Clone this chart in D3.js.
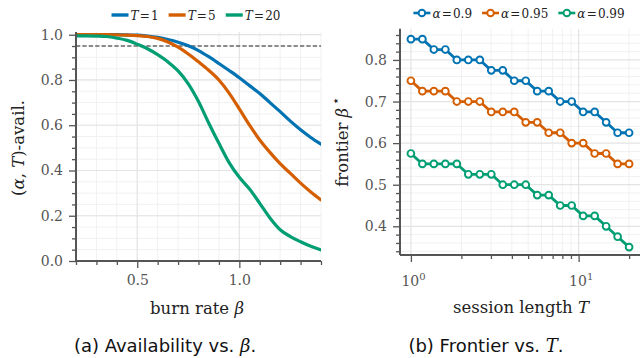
<!DOCTYPE html>
<html>
<head>
<meta charset="utf-8">
<script src="https://cdn.jsdelivr.net/npm/d3@7"></script>
<style>
  body { margin: 0; background: #fff; }
  svg { display: block; }
  .tick-label { font-family: "DejaVu Serif", serif; font-size: 14px; fill: #555; }
  .ax-label { font-family: "DejaVu Serif", serif; font-size: 16.5px; fill: #222; }
  .caption { font-family: "DejaVu Sans", sans-serif; font-size: 18px; fill: #111; }
  .leg { font-family: "DejaVu Serif", serif; font-size: 12px; fill: #222; }
</style>
</head>
<body>
<svg id="chart" width="641" height="358"></svg>
<script>
// ---- data: panel (a) availability vs burn rate ----
const beta = [0.20, 0.25, 0.30, 0.35, 0.40, 0.45, 0.50, 0.55, 0.60, 0.65, 0.70, 0.75, 0.80,
              0.85, 0.90, 0.95, 1.00, 1.05, 1.10, 1.15, 1.20, 1.25, 1.30, 1.35, 1.40];
const availT1 = [1.000, 1.000, 1.000, 1.000, 1.000, 0.999, 0.998, 0.994, 0.988, 0.979, 0.967, 0.951, 0.930,
                 0.903, 0.873, 0.842, 0.810, 0.775, 0.740, 0.700, 0.660, 0.618, 0.580, 0.546, 0.516];
const availT5 = [1.000, 1.000, 1.000, 1.000, 0.999, 0.998, 0.996, 0.992, 0.984, 0.968, 0.945, 0.915, 0.880,
                 0.843, 0.800, 0.742, 0.672, 0.600, 0.535, 0.480, 0.430, 0.387, 0.344, 0.305, 0.270];
const availT20 = [0.995, 0.995, 0.994, 0.992, 0.985, 0.975, 0.958, 0.938, 0.912, 0.880, 0.840, 0.783, 0.705,
                  0.610, 0.520, 0.435, 0.370, 0.318, 0.255, 0.190, 0.138, 0.108, 0.085, 0.065, 0.049];
const seriesA = [
  { label: "1", values: availT1, color: "#0173B2" },
  { label: "5", values: availT5, color: "#D55E00" },
  { label: "20", values: availT20, color: "#029E73" }
];
const alphaTarget = 0.95;

// ---- data: panel (b) frontier vs session length ----
// T sampled geometrically from 1 to 20 (20 points)
const sessionT = d3.range(20).map(i => Math.pow(20, i / 19));
const frontier090 = [0.85, 0.85, 0.825, 0.825, 0.80, 0.80, 0.80, 0.775, 0.775, 0.75,
                     0.75, 0.725, 0.725, 0.70, 0.70, 0.675, 0.675, 0.65, 0.625, 0.625];
const frontier095 = [0.75, 0.725, 0.725, 0.725, 0.70, 0.70, 0.70, 0.675, 0.675, 0.675,
                     0.65, 0.65, 0.625, 0.625, 0.60, 0.60, 0.575, 0.575, 0.55, 0.55];
const frontier099 = [0.575, 0.55, 0.55, 0.55, 0.55, 0.525, 0.525, 0.525, 0.50, 0.50,
                     0.50, 0.475, 0.475, 0.45, 0.45, 0.425, 0.425, 0.40, 0.375, 0.35];
const seriesB = [
  { label: "0.9", values: frontier090, color: "#0173B2" },
  { label: "0.95", values: frontier095, color: "#D55E00" },
  { label: "0.99", values: frontier099, color: "#029E73" }
];

const svg = d3.select("#chart");
const spineColor = "#555";
const gridMajor = "#e4e4e4";
const gridMinor = "#f1f1f1";

// ================= panel (a) =================
const xA = d3.scaleLinear().domain([0.2, 1.4]).range([76, 321]);
const yA = d3.scaleLinear().domain([0, 1.012]).range([261, 32]);

const gA = svg.append("g");
const defs = svg.append("defs");
defs.append("clipPath").attr("id", "clipA").append("rect")
  .attr("x", 76).attr("y", 32).attr("width", 245).attr("height", 229);
defs.append("clipPath").attr("id", "clipB").append("rect")
  .attr("x", 400).attr("y", 28.75).attr("width", 241).attr("height", 226.25);

// minor + major grid
const xAminor = d3.range(0.2, 1.41, 0.1).map(v => +v.toFixed(2));
const yAminor = d3.range(0, 1.001, 0.05).map(v => +v.toFixed(2));
const xAmajor = [0.5, 1.0];
const yAmajor = [0, 0.2, 0.4, 0.6, 0.8, 1.0];

gA.selectAll(".gvmin").data(xAminor).enter().append("line")
  .attr("x1", d => xA(d)).attr("x2", d => xA(d)).attr("y1", 32).attr("y2", 261)
  .attr("stroke", gridMinor).attr("stroke-width", 1);
gA.selectAll(".ghmin").data(yAminor).enter().append("line")
  .attr("x1", 76).attr("x2", 321).attr("y1", d => yA(d)).attr("y2", d => yA(d))
  .attr("stroke", gridMinor).attr("stroke-width", 1);
gA.selectAll(".gvmaj").data(xAmajor).enter().append("line")
  .attr("x1", d => xA(d)).attr("x2", d => xA(d)).attr("y1", 32).attr("y2", 261)
  .attr("stroke", gridMajor).attr("stroke-width", 1.2);
gA.selectAll(".ghmaj").data(yAmajor).enter().append("line")
  .attr("x1", 76).attr("x2", 321).attr("y1", d => yA(d)).attr("y2", d => yA(d))
  .attr("stroke", gridMajor).attr("stroke-width", 1.2);

// dashed target line
gA.append("line")
  .attr("x1", 76).attr("x2", 321).attr("y1", yA(alphaTarget)).attr("y2", yA(alphaTarget))
  .attr("stroke", "#666").attr("stroke-width", 1.4).attr("stroke-dasharray", "4.2,2.2");

const lineA = d3.line()
  .x((d, i) => xA(beta[i]))
  .y(d => yA(d))
  .curve(d3.curveMonotoneX);

gA.append("g").attr("clip-path", "url(#clipA)")
  .selectAll("path").data(seriesA).enter().append("path")
  .attr("d", d => lineA(d.values))
  .attr("fill", "none")
  .attr("stroke", d => d.color)
  .attr("stroke-width", 3.2)
  .attr("stroke-linecap", "round");

// axes
const axA_y = d3.axisLeft(yA).tickValues(yAmajor).tickFormat(d3.format(".1f")).tickSize(7).tickPadding(6);
const axA_ymin = d3.axisLeft(yA).tickValues(yAminor.filter(v => !yAmajor.some(m => Math.abs(m - v) < 1e-6))).tickFormat("").tickSize(4);
const axA_x = d3.axisBottom(xA).tickValues(xAmajor).tickFormat(d3.format(".1f")).tickSize(7).tickPadding(7);
const axA_xmin = d3.axisBottom(xA).tickValues(xAminor.filter(v => !xAmajor.some(m => Math.abs(m - v) < 1e-6))).tickFormat("").tickSize(4);

function styleAxis(g) {
  g.select(".domain").remove();
  g.selectAll(".tick line").attr("stroke", spineColor).attr("stroke-width", 1.3);
  g.selectAll(".tick text").attr("class", "tick-label").attr("fill", null);
}
gA.append("g").attr("transform", "translate(76,0)").call(axA_ymin).call(styleAxis);
gA.append("g").attr("transform", "translate(76,0)").call(axA_y).call(styleAxis);
gA.append("g").attr("transform", "translate(0,261)").call(axA_xmin).call(styleAxis);
gA.append("g").attr("transform", "translate(0,261)").call(axA_x).call(styleAxis);

// spines
gA.append("line").attr("x1", 76).attr("x2", 76).attr("y1", 32).attr("y2", 261)
  .attr("stroke", spineColor).attr("stroke-width", 2);
gA.append("line").attr("x1", 76).attr("x2", 321).attr("y1", 261).attr("y2", 261)
  .attr("stroke", spineColor).attr("stroke-width", 2);

// axis labels
const xlabA = gA.append("text").attr("class", "ax-label")
  .attr("x", 197).attr("y", 314).attr("text-anchor", "middle");
xlabA.append("tspan").text("burn rate ");
xlabA.append("tspan").attr("font-style", "italic").text("β");

const ylabA = gA.append("text").attr("class", "ax-label")
  .attr("transform", "translate(24,148) rotate(-90)").attr("text-anchor", "middle");
ylabA.append("tspan").text("(");
ylabA.append("tspan").attr("font-style", "italic").text("α");
ylabA.append("tspan").text(", ");
ylabA.append("tspan").attr("font-style", "italic").text("T");
ylabA.append("tspan").text(")-avail.");

// caption
const capA = svg.append("text").attr("class", "caption")
  .attr("x", 165).attr("y", 352).attr("text-anchor", "middle");
capA.append("tspan").text("(a) Availability vs. ");
capA.append("tspan").attr("font-family", "DejaVu Serif, serif").attr("font-style", "italic").text("β");
capA.append("tspan").text(".");

// legend
function drawLegend(items, centerX, cy, withMarker) {
  const lg = svg.append("g");
  let x = 0;
  const gap = 10;
  items.forEach((s, i) => {
    const it = lg.append("g").attr("transform", `translate(${x},0)`);
    it.append("line").attr("x1", 0).attr("x2", 17).attr("y1", cy).attr("y2", cy)
      .attr("stroke", s.color).attr("stroke-width", withMarker ? 2.6 : 3.4);
    if (withMarker) {
      it.append("circle").attr("cx", 8.5).attr("cy", cy).attr("r", 3.3)
        .attr("fill", "#fff").attr("stroke", s.color).attr("stroke-width", 1.9);
    }
    const t = it.append("text").attr("class", "leg").attr("x", 19).attr("y", cy + 4.5);
    t.append("tspan").attr("font-style", "italic").text(withMarker ? "α" : "T");
    t.append("tspan").text("\u200A=\u200A" + s.label);
    const w = t.node().getComputedTextLength();
    x += 19 + w + gap;
  });
  const total = x - gap;
  lg.attr("transform", `translate(${centerX - total / 2},0)`);
}
drawLegend(seriesA, 196, 15, false);

// ================= panel (b) =================
const xB = d3.scaleLog().domain([Math.pow(10, -0.065), Math.pow(10, 1.366)]).range([400, 640]);
const yB = d3.scaleLinear().domain([0.331, 0.875]).range([255, 28.75]);
const gB = svg.append("g");

const xBmajor = [1, 10];
const xBminor = [2, 3, 4, 5, 6, 7, 8, 9, 20];
const yBmajor = [0.4, 0.5, 0.6, 0.7, 0.8];
const yBminor = d3.range(0.34, 0.875, 0.02).map(v => +v.toFixed(2))
  .filter(v => !yBmajor.some(m => Math.abs(m - v) < 1e-6));

gB.selectAll(".gvmin").data(xBminor).enter().append("line")
  .attr("x1", d => xB(d)).attr("x2", d => xB(d)).attr("y1", 28.75).attr("y2", 255)
  .attr("stroke", gridMinor).attr("stroke-width", 1);
gB.selectAll(".ghmin").data(yBminor).enter().append("line")
  .attr("x1", 400).attr("x2", 640).attr("y1", d => yB(d)).attr("y2", d => yB(d))
  .attr("stroke", gridMinor).attr("stroke-width", 1);
gB.selectAll(".gvmaj").data(xBmajor).enter().append("line")
  .attr("x1", d => xB(d)).attr("x2", d => xB(d)).attr("y1", 28.75).attr("y2", 255)
  .attr("stroke", gridMajor).attr("stroke-width", 1.2);
gB.selectAll(".ghmaj").data(yBmajor).enter().append("line")
  .attr("x1", 400).attr("x2", 640).attr("y1", d => yB(d)).attr("y2", d => yB(d))
  .attr("stroke", gridMajor).attr("stroke-width", 1.2);

const lineB = d3.line().x((d, i) => xB(sessionT[i])).y(d => yB(d));
const plotB = gB.append("g").attr("clip-path", "url(#clipB)");
seriesB.forEach(s => {
  plotB.append("path").attr("d", lineB(s.values))
    .attr("fill", "none").attr("stroke", s.color).attr("stroke-width", 2.8)
    .attr("stroke-linejoin", "round");
  plotB.selectAll(null).data(s.values).enter().append("circle")
    .attr("cx", (d, i) => xB(sessionT[i])).attr("cy", d => yB(d)).attr("r", 3.4)
    .attr("fill", "#fff").attr("stroke", s.color).attr("stroke-width", 1.9);
});

const axB_y = d3.axisLeft(yB).tickValues(yBmajor).tickFormat(d3.format(".1f")).tickSize(7).tickPadding(6);
const axB_ymin = d3.axisLeft(yB).tickValues(yBminor).tickFormat("").tickSize(4);
const axB_x = d3.axisBottom(xB).tickValues(xBmajor).tickFormat("").tickSize(7);
const axB_xmin = d3.axisBottom(xB).tickValues(xBminor).tickFormat("").tickSize(4);
gB.append("g").attr("transform", "translate(400,0)").call(axB_ymin).call(styleAxis);
gB.append("g").attr("transform", "translate(400,0)").call(axB_y).call(styleAxis);
gB.append("g").attr("transform", "translate(0,255)").call(axB_xmin).call(styleAxis);
gB.append("g").attr("transform", "translate(0,255)").call(axB_x).call(styleAxis);

// log tick labels 10^k
xBmajor.forEach(v => {
  const t = gB.append("text").attr("class", "tick-label")
    .attr("x", xB(v) - 9.5).attr("y", 286).attr("text-anchor", "start");
  t.append("tspan").text("10");
  t.append("tspan").attr("dy", -6.5).attr("font-size", 10).text(String(Math.round(Math.log10(v))));
});

gB.append("line").attr("x1", 400).attr("x2", 400).attr("y1", 28.75).attr("y2", 255)
  .attr("stroke", spineColor).attr("stroke-width", 2);
gB.append("line").attr("x1", 400).attr("x2", 640).attr("y1", 255).attr("y2", 255)
  .attr("stroke", spineColor).attr("stroke-width", 2);

const xlabB = gB.append("text").attr("class", "ax-label")
  .attr("x", 521).attr("y", 313).attr("text-anchor", "middle");
xlabB.append("tspan").text("session length ");
xlabB.append("tspan").attr("font-style", "italic").text("T");

const ylabB = gB.append("text").attr("class", "ax-label")
  .attr("transform", "translate(348,142) rotate(-90)").attr("text-anchor", "middle");
ylabB.append("tspan").text("frontier ");
ylabB.append("tspan").attr("font-style", "italic").text("β");
ylabB.append("tspan").attr("dy", -8).attr("font-size", 13).text("\u2009\u22C6");

const capB = svg.append("text").attr("class", "caption")
  .attr("x", 486).attr("y", 352).attr("text-anchor", "middle");
capB.append("tspan").text("(b) Frontier vs. ");
capB.append("tspan").attr("font-family", "DejaVu Serif, serif").attr("font-style", "italic").text("T");
capB.append("tspan").text(".");

drawLegend(seriesB, 519, 13, true);
</script>
</body>
</html>
